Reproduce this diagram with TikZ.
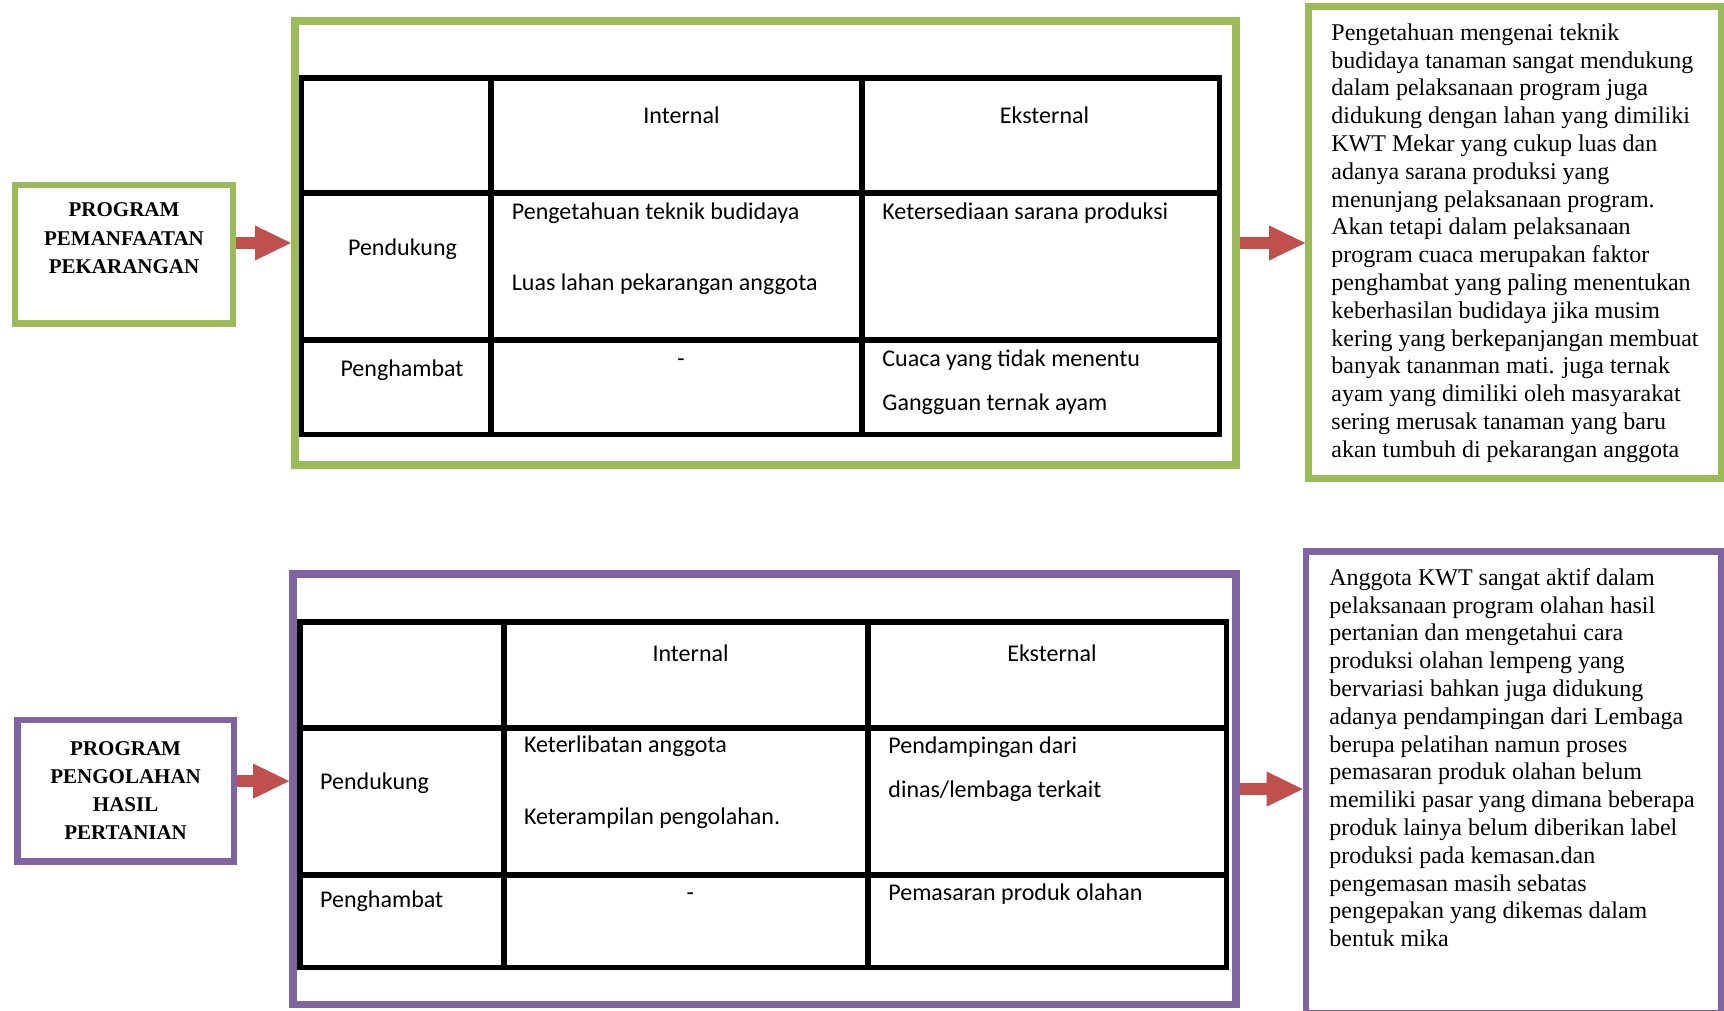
\documentclass[tikz,border=0pt]{standalone}
\usepackage{fontspec}
\setmainfont{Liberation Serif}
\newfontfamily\calibri{Carlito}
\usepackage{xcolor}
\usetikzlibrary{arrows.meta, positioning}
\definecolor{hijau}{HTML}{9BBB59}
\definecolor{ungu}{HTML}{8064A2}
\definecolor{merah}{HTML}{C0504D}

\begin{document}
\begin{tikzpicture}[x=0.5pt, y=-0.5pt,
		kotak/.style={draw, rectangle, inner sep=0pt},
		judul/.style={align=center, inner sep=0pt, font=\fontsize{10.5}{14.15}\selectfont\bfseries},
		sel/.style={inner sep=0pt, font=\calibri\fontsize{12}{14.4}\selectfont},
		garis/.style={line width=2.75pt, line cap=rect},
		panah/.style={merah, line width=5.85pt, -{Triangle[length=18pt, width=17.5pt, line width=0pt]}},
		catatan/.style={align=left, inner sep=0pt, anchor=base west, font=\fontsize{12}{13.9}\selectfont}]
			%% Batas gambar
			\clip (0,0) rectangle (1724,1011);
			
			%% Program pemanfaatan pekarangan
			\node[kotak, draw=hijau, line width=3.25pt, minimum width=109pt, minimum height=69.25pt] (prog1) at (124,254.25) {};
			\node[judul] (judul1) at (124,238.3) {PROGRAM\\PEMANFAATAN\\PEKARANGAN};
			
			%% Bingkai tabel atas
			\node[kotak, draw=hijau, line width=4pt, minimum width=470.5pt, minimum height=222pt] (bingkai1) at (765.5,243) {};
			\draw[garis] (301.5,78) rectangle (1219.5,434.5);
			\draw[garis] (301.5,193) -- (1219.5,193) (301.5,340) -- (1219.5,340)
				(491,78) -- (491,434.5) (862,78) -- (862,434.5);
			
			%% Isi tabel atas
			\node[sel, anchor=base] (int1) at (681.5,123.3) {Internal};
			\node[sel, anchor=base] (eks1) at (1044.5,123.3) {Eksternal};
			\node[sel, anchor=base] (pend1) at (402.5,255) {Pendukung};
			\node[sel, anchor=base] (ham1) at (402,376) {Penghambat};
			\node[sel, anchor=base west] (pi1) at (511.5,219) {Pengetahuan teknik budidaya};
			\node[sel, anchor=base west] (pi2) at (511.5,290) {Luas lahan pekarangan anggota};
			\node[sel, anchor=base west] (pe1) at (882,219) {Ketersediaan sarana produksi};
			\node[sel, anchor=base] (hi1) at (681,366.5) {-};
			\node[sel, anchor=base west] (he1) at (882,366.7) {Cuaca yang tidak menentu};
			\node[sel, anchor=base west] (he2) at (882,410.7) {Gangguan ternak ayam};
			
			%% Catatan atas (base = baris terakhir)
			\node[kotak, draw=hijau, line width=3.3pt, minimum width=206.25pt, minimum height=236pt] (cat1) at (1514.75,242.3) {};
			\node[catatan] (teks1) at (1331,457.3) {Pengetahuan mengenai teknik\\
				budidaya tanaman sangat mendukung\\
				dalam pelaksanaan program juga\\
				didukung dengan lahan yang dimiliki\\
				KWT Mekar yang cukup luas dan\\
				adanya sarana produksi yang\\
				menunjang pelaksanaan program.\\
				Akan tetapi dalam pelaksanaan\\
				program cuaca merupakan faktor\\
				penghambat yang paling menentukan\\
				keberhasilan budidaya jika musim\\
				kering yang berkepanjangan membuat\\
				banyak tananman mati. juga ternak\\
				ayam yang dimiliki oleh masyarakat\\
				sering merusak tanaman yang baru\\
				akan tumbuh di pekarangan anggota};
			
			%% Panah atas
			\draw[panah] (prog1.east |- bingkai1.west) -- (bingkai1.west);
			\draw[panah] (bingkai1.east) -- (bingkai1.east -| cat1.west);
			
			%% Program pengolahan hasil pertanian
			\node[kotak, draw=ungu, line width=3.3pt, minimum width=108.35pt, minimum height=70.85pt] (prog2) at (125.65,790.85) {};
			\node[judul] (judul2) at (125.65,790.5) {PROGRAM\\PENGOLAHAN\\HASIL\\PERTANIAN};
			
			%% Bingkai tabel bawah
			\node[kotak, draw=ungu, line width=3.8pt, minimum width=471.5pt, minimum height=215.4pt] (bingkai2) at (764.5,789.1) {};
			\draw[garis] (300,622) rectangle (1226.5,967.5);
			\draw[garis] (300,728) -- (1226.5,728) (300,875) -- (1226.5,875)
				(504,622) -- (504,967.5) (868,622) -- (868,967.5);
			
			%% Isi tabel bawah
			\node[sel, anchor=base] (int2) at (690.6,661.7) {Internal};
			\node[sel, anchor=base] (eks2) at (1051.9,661.7) {Eksternal};
			\node[sel, anchor=base west] (pend2) at (319.8,789.3) {Pendukung};
			\node[sel, anchor=base west] (ham2) at (319.8,907.7) {Penghambat};
			\node[sel, anchor=base west] (pi3) at (523.7,752.7) {Keterlibatan anggota};
			\node[sel, anchor=base west] (pi4) at (523.7,824) {Keterampilan pengolahan.};
			\node[sel, anchor=base west] (pe2) at (888,753.3) {Pendampingan dari};
			\node[sel, anchor=base west] (pe3) at (888,797.3) {dinas/lembaga terkait};
			\node[sel, anchor=base] (hi2) at (690.3,900.7) {-};
			\node[sel, anchor=base west] (he3) at (888,900.7) {Pemasaran produk olahan};
			
			%% Catatan bawah
			\node[kotak, draw=ungu, line width=3.3pt, minimum width=207.5pt, minimum height=230.65pt] (cat2) at (1513.5,782.35) {};
			\node[catatan] (teks2) at (1329,946.7) {Anggota KWT sangat aktif dalam\\
				pelaksanaan program olahan hasil\\
				pertanian dan mengetahui cara\\
				produksi olahan lempeng yang\\
				bervariasi bahkan juga didukung\\
				adanya pendampingan dari Lembaga\\
				berupa pelatihan namun proses\\
				pemasaran produk olahan belum\\
				memiliki pasar yang dimana beberapa\\
				produk lainya belum diberikan label\\
				produksi pada kemasan.dan\\
				pengemasan masih sebatas\\
				pengepakan yang dikemas dalam\\
				bentuk mika};
			
			%% Panah bawah
			\draw[panah] ([yshift=4pt]bingkai2.west -| prog2.east) -- ([yshift=4pt]bingkai2.west);
			\draw[panah] (bingkai2.east) -- (bingkai2.east -| cat2.west);
		\end{tikzpicture}
\end{document}
